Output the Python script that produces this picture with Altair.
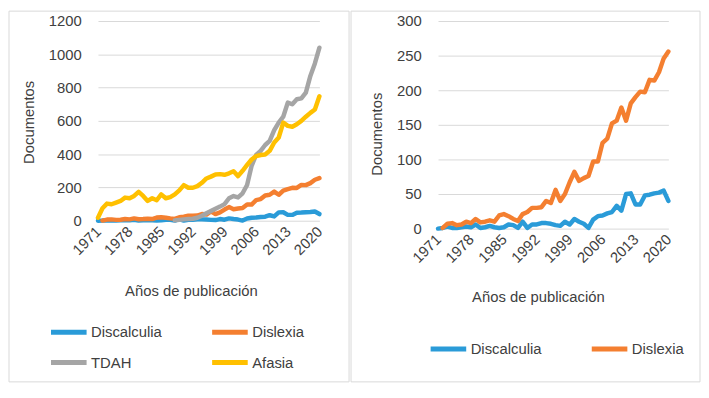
import altair as alt
import pandas as pd

years = list(range(1971, 2021))

discalculia = [0, 1, 3, 1, 1, 2, 3, 2, 6, 1,
               2, 4, 2, 1, 2, 6, 5, 1, 10, 1,
               6, 6, 8, 8, 7, 5, 4, 10, 6, 14,
               10, 7, 1, 13, 18, 19, 22, 24, 33, 26,
               50, 51, 35, 35, 48, 49, 51, 52, 55, 40]

dislexia = [None, 1, 7, 8, 5, 6, 10, 8, 14, 9,
            10, 12, 10, 19, 21, 18, 14, 11, 21, 24,
            30, 30, 31, 40, 37, 56, 40, 50, 67, 82,
            69, 73, 76, 97, 97, 124, 130, 152, 156, 175,
            156, 181, 190, 198, 197, 215, 214, 226, 246, 256]

tdah = [None] * 17 + [2, 5, 8, 10, 12, 18, 30, 45, 58, 72,
                      85, 100, 135, 148, 140, 165, 215, 330, 395, 420,
                      455, 480, 545, 590, 625, 710, 700, 730, 735, 770,
                      870, 945, 1040]

afasia = [18, 75, 103, 99, 109, 119, 139, 135, 149, 174,
          149, 119, 135, 123, 158, 135, 142, 158, 182, 214,
          198, 198, 208, 228, 254, 265, 278, 280, 276, 285,
          297, 268, 300, 335, 368, 388, 395, 398, 420, 470,
          500, 590, 570, 565, 580, 600, 625, 648, 668, 748]

tick_years = [1971, 1978, 1985, 1992, 1999, 2006, 2013, 2020]

series_left = ["Discalculia", "Dislexia", "TDAH", "Afasia"]
series_right = ["Discalculia", "Dislexia"]
palette = {"Discalculia": "#2A9BD8", "Dislexia": "#F47F30",
           "TDAH": "#A5A5A5", "Afasia": "#FFC000"}
values_by_series = {"Discalculia": discalculia, "Dislexia": dislexia,
                    "TDAH": tdah, "Afasia": afasia}

FONT = "Liberation Sans"
TXT = "#404040"


def make_df(names):
    rows = []
    for n in names:
        for y, v in zip(years, values_by_series[n]):
            if v is not None:
                rows.append({"anio": y, "docs": v, "serie": n})
    return pd.DataFrame(rows)


def panel(names, ymax, ystep, w, h, leg_cols, leg_x, leg_y, col_pad,
          rect, xt_x, xt_y, yt_x, yt_y):
    df = make_df(names)
    color = alt.Color(
        "serie:N",
        sort=names,
        scale=alt.Scale(domain=names, range=[palette[n] for n in names]),
        legend=alt.Legend(
            orient="none", legendX=leg_x, legendY=leg_y, columns=leg_cols,
            direction="horizontal",
            title=None, symbolType="stroke", symbolStrokeWidth=5,
            symbolSize=1296, labelFont=FONT, labelFontSize=15,
            labelColor=TXT, labelOffset=2, columnPadding=col_pad,
            rowPadding=0, padding=0, labelLimit=200,
        ),
    )
    lines = alt.Chart(df).mark_line(strokeWidth=4.5, strokeJoin="round",
                                    strokeCap="round").encode(
        x=alt.X("anio:Q",
                scale=alt.Scale(domain=[1971, 2020], nice=False, zero=False),
                axis=alt.Axis(values=tick_years, format="d", labelAngle=-45,
                              labelAlign="right", labelBaseline="middle",
                              labelOverlap=False, labelBound=False,
                              labelPadding=8, grid=False, domain=False,
                              ticks=False, labelFont=FONT, labelFontSize=15,
                              labelColor=TXT, title="Años de publicación",
                              titleFont=FONT, titleFontSize=15,
                              titleFontWeight="normal", titleColor=TXT,
                              titleX=xt_x, titleY=xt_y, titleAlign="center",
                              titleBaseline="middle")),
        y=alt.Y("docs:Q",
                scale=alt.Scale(domain=[0, ymax], nice=False),
                axis=alt.Axis(values=list(range(0, ymax + 1, ystep)),
                              format="d",
                              grid=True, gridColor="#D9D9D9", domain=False,
                              ticks=False, labelPadding=17, labelFont=FONT,
                              labelFontSize=15, labelColor=TXT,
                              title="Documentos", titleFont=FONT,
                              titleFontSize=15, titleFontWeight="normal",
                              titleColor=TXT, titleX=yt_x, titleY=yt_y,
                              titleAlign="center", titleBaseline="middle")),
        color=color,
        order=alt.Order("anio:Q"),
    )
    x0, x1, y0, y1 = rect
    border = alt.Chart(pd.DataFrame({"k": [0]})).mark_rect(
        fill="transparent", stroke="#D9D9D9", strokeWidth=1).encode(
        x=alt.value(x0), x2=alt.value(x1), y=alt.value(y0), y2=alt.value(y1))
    return alt.layer(border, lines).properties(width=w, height=h)


left = panel(series_left, 1200, 200, 224, 202, 2, -50, 294, 40,
             (-90, 254, -10, 365), 94, 71, -70, 102)
right = panel(series_right, 300, 50, 233, 210, 2, -10, 311, 40,
              (-88, 265, -10, 365), 101, 69, -62, 114)

chart = alt.hconcat(left, right, spacing=0).resolve_scale(
    color="independent").resolve_legend(color="independent").configure_view(
    stroke=None).properties(padding=0, background="white")

chart.save("out.html", embed_options={"renderer": "svg", "actions": False})
